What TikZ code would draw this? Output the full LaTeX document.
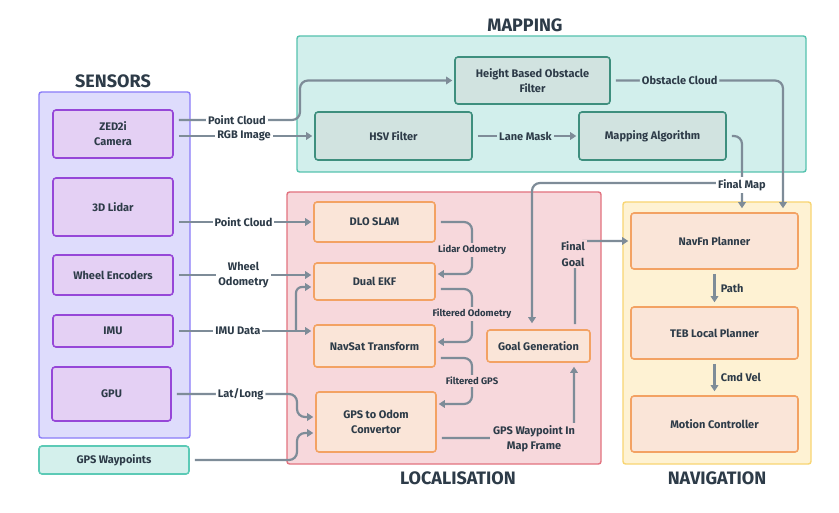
\documentclass[tikz,border=0pt]{standalone}
\usepackage{fontspec}
\setmainfont{Fira Sans}
\usetikzlibrary{arrows.meta,calc}
\definecolor{txt}{HTML}{2D3B48}
\definecolor{lin}{HTML}{7E8C98}
\definecolor{sensfill}{HTML}{DEDCFC}
\definecolor{sensdraw}{HTML}{8B7CF8}
\definecolor{sboxfill}{HTML}{E4D0F4}
\definecolor{sboxdraw}{HTML}{9647D8}
\definecolor{wpfill}{HTML}{D4F0EC}
\definecolor{wpdraw}{HTML}{5CCAB6}
\definecolor{mapfill}{HTML}{D2EFEC}
\definecolor{mapdraw}{HTML}{55C2AE}
\definecolor{mboxfill}{HTML}{D1E3E0}
\definecolor{mboxdraw}{HTML}{3E8F7E}
\definecolor{locfill}{HTML}{F7D8DC}
\definecolor{locdraw}{HTML}{E2727F}
\definecolor{oboxfill}{HTML}{FAE5D8}
\definecolor{oboxdraw}{HTML}{F3A263}
\definecolor{navfill}{HTML}{FEF2D3}
\definecolor{navdraw}{HTML}{F8D572}
\begin{document}
\begin{tikzpicture}[x=1pt,y=-1pt,
  grp/.style={rectangle, rounded corners=2.5pt, line width=1.4pt, inner sep=0pt},
  box/.style={rectangle, rounded corners=3pt, line width=1.6pt, inner sep=2pt, align=center,
    text=txt, font=\fontsize{11}{15}\selectfont\bfseries},
  sbox/.style={box, fill=sboxfill, draw=sboxdraw},
  mbox/.style={box, fill=mboxfill, draw=mboxdraw},
  obox/.style={box, fill=oboxfill, draw=oboxdraw},
  lab/.style={fill=white, text=txt, inner sep=2pt, align=center, font=\fontsize{11}{15.5}\selectfont\bfseries},
  slab/.style={lab, font=\fontsize{9.5}{11}\selectfont\bfseries},
  ttl/.style={text=txt, font=\fontsize{18}{21}\selectfont\bfseries},
  conn/.style={draw=lin, line width=2.2pt, -{Triangle[length=6pt,width=7.5pt]}, shorten <=5pt, shorten >=2pt},
  nlab/.style={right, text=txt, font=\fontsize{11}{13}\selectfont\bfseries, xshift=2pt}
]
\fill[white] (0,0) rectangle (839,513);
\useasboundingbox (0,0) rectangle (839,513);

% groups
\node[grp, fill=sensfill, draw=sensdraw, minimum width=151pt, minimum height=346pt] (sensors) at (114.5,265) {};
\node[grp, fill=mapfill, draw=mapdraw, minimum width=509pt, minimum height=136pt] (mapping) at (551.5,104) {};
\node[grp, fill=locfill, draw=locdraw, minimum width=314pt, minimum height=272pt] (loc) at (444,328) {};
\node[grp, fill=navfill, draw=navdraw, minimum width=188pt, minimum height=262pt] (nav) at (717,333) {};

% titles
\node[ttl] (tsens) at (113,81) {SENSORS};
\node[ttl] (tmap) at (525,25) {MAPPING};
\node[ttl] (tloc) at (458,478) {LOCALISATION};
\node[ttl] (tnav) at (717,478) {NAVIGATION};

% sensor boxes
\node[sbox, minimum width=120pt, minimum height=48pt] (zed) at (113,134) {ZED2i\\Camera};
\node[sbox, minimum width=120pt, minimum height=58pt] (lidar) at (113,207) {3D Lidar};
\node[sbox, minimum width=120pt, minimum height=40pt] (wheel) at (113,275) {Wheel Encoders};
\node[sbox, minimum width=120pt, minimum height=32pt] (imu) at (113,331) {IMU};
\node[sbox, minimum width=119pt, minimum height=54pt] (gpu) at (111.5,394) {GPU};
\node[box, fill=wpfill, draw=wpdraw, minimum width=150pt, minimum height=28pt] (gpswp) at (114,460) {GPS Waypoints};

% mapping boxes
\node[mbox, minimum width=155pt, minimum height=47pt] (height) at (532.5,80.5) {Height Based Obstacle\\Filter};
\node[mbox, minimum width=157pt, minimum height=48pt] (hsv) at (393.5,136) {HSV Filter};
\node[mbox, minimum width=147pt, minimum height=48pt] (mapalg) at (652.5,136) {Mapping Algorithm};

% localisation boxes
\node[obox, minimum width=121pt, minimum height=40pt] (dlo) at (374.5,222) {DLO SLAM};
\node[obox, minimum width=121pt, minimum height=37pt] (ekf) at (374.5,281.5) {Dual EKF};
\node[obox, minimum width=121pt, minimum height=42pt] (navsat) at (374.5,346) {NavSat Transform};
\node[obox, minimum width=120pt, minimum height=60pt] (g2o) at (376,422) {GPS to Odom\\Convertor};
\node[obox, minimum width=103pt, minimum height=32pt] (goal) at (538.5,346) {Goal Generation};

% navigation boxes
\node[obox, minimum width=167pt, minimum height=56pt] (navfn) at (714.5,241) {NavFn Planner};
\node[obox, minimum width=167pt, minimum height=52pt] (teb) at (714.5,333) {TEB Local Planner};
\node[obox, minimum width=167pt, minimum height=56pt] (motion) at (714.5,424) {Motion Controller};

% sensor connectors
\draw[conn, rounded corners=8pt] ([yshift=14pt]zed.east) -- node[lab]{Point Cloud} (300,120) -- (300,80.5) -- (height.west);
\draw[conn] ([yshift=-2pt]zed.east) -- node[lab]{RGB Image} (hsv.west);
\draw[conn] (lidar.east |- dlo.west) -- node[lab]{Point Cloud} (dlo.west);
\draw[conn] (wheel.east) -- node[lab]{Wheel\\Odometry} (ekf.west |- wheel.east);
\draw[conn] (imu.east) -- node[lab, pos=0.46]{IMU Data} (navsat.west |- imu.east);
\coordinate (imubr) at (296,331);
\draw[conn, rounded corners=6pt, shorten <=0pt] (imubr) -- (296,287) -- ([yshift=-5.5pt]ekf.west);
\draw[conn, rounded corners=8pt] (gpu.east) -- node[lab, pos=0.55]{Lat/Long} (297,394) -- (297,417) -- ([yshift=5pt]g2o.west);
\draw[conn, rounded corners=8pt] (gpswp.east) -- (297,460) -- (297,433) -- ([yshift=-11pt]g2o.west);

% mapping connectors
\draw[conn] (hsv.east) -- node[lab, fill=mapfill]{Lane Mask} (mapalg.west);
\draw[conn, rounded corners=8pt, shorten >=4pt] (height.east) -- node[lab, fill=mapfill, pos=0.4]{Obstacle Cloud} (783,80.5) -- ([xshift=68.5pt]navfn.north);
\draw[conn, rounded corners=8pt, shorten >=4pt] (mapalg.east) -- (742,136) -- ([xshift=27.5pt]navfn.north);
\coordinate (fmbr) at (742,183);
\draw[conn, rounded corners=8pt, shorten <=0pt, shorten >=6pt] (fmbr) -- (532,183) -- ([xshift=-6.5pt]goal.north);
\node[lab] (fmlab) at (742,185) {Final Map};

% localisation connectors
\draw[conn, rounded corners=8pt] (dlo.east) -- (472,222) -- (472,274) -- ([yshift=7.5pt]ekf.east);
\node[slab, fill=locfill] (lolab) at (472,250) {Lidar Odometry};
\draw[conn, rounded corners=8pt] ([yshift=-7.5pt]ekf.east) -- (472,289) -- (472,342) -- ([yshift=4pt]navsat.east);
\node[slab, fill=locfill] (folab) at (472,314) {Filtered Odometry};
\draw[conn, rounded corners=8pt] ([yshift=-12pt]navsat.east) -- (472,358) -- (472,404) -- ([yshift=18pt]g2o.east);
\node[slab, fill=locfill] (fglab) at (472,381) {Filtered GPS};
\draw[conn, rounded corners=8pt, shorten >=4pt] ([yshift=-16pt]g2o.east) -- (574,438) -- ([xshift=35.5pt]goal.south);
\node[lab, fill=locfill, inner sep=3pt] (wplab) at (534,439) {GPS Waypoint In\\Map Frame};
\draw[conn, rounded corners=8pt] ([xshift=36.5pt]goal.north) -- (575,241) -- (navfn.west);
\node[lab, fill=locfill] (fglab2) at (573,254) {Final\\Goal};

% navigation connectors
\draw[conn, shorten <=4pt, shorten >=4pt] (navfn.south) -- node[nlab]{Path} (teb.north);
\draw[conn, shorten <=4pt, shorten >=4pt] (teb.south) -- node[nlab]{Cmd Vel} (motion.north);
\end{tikzpicture}
\end{document}
